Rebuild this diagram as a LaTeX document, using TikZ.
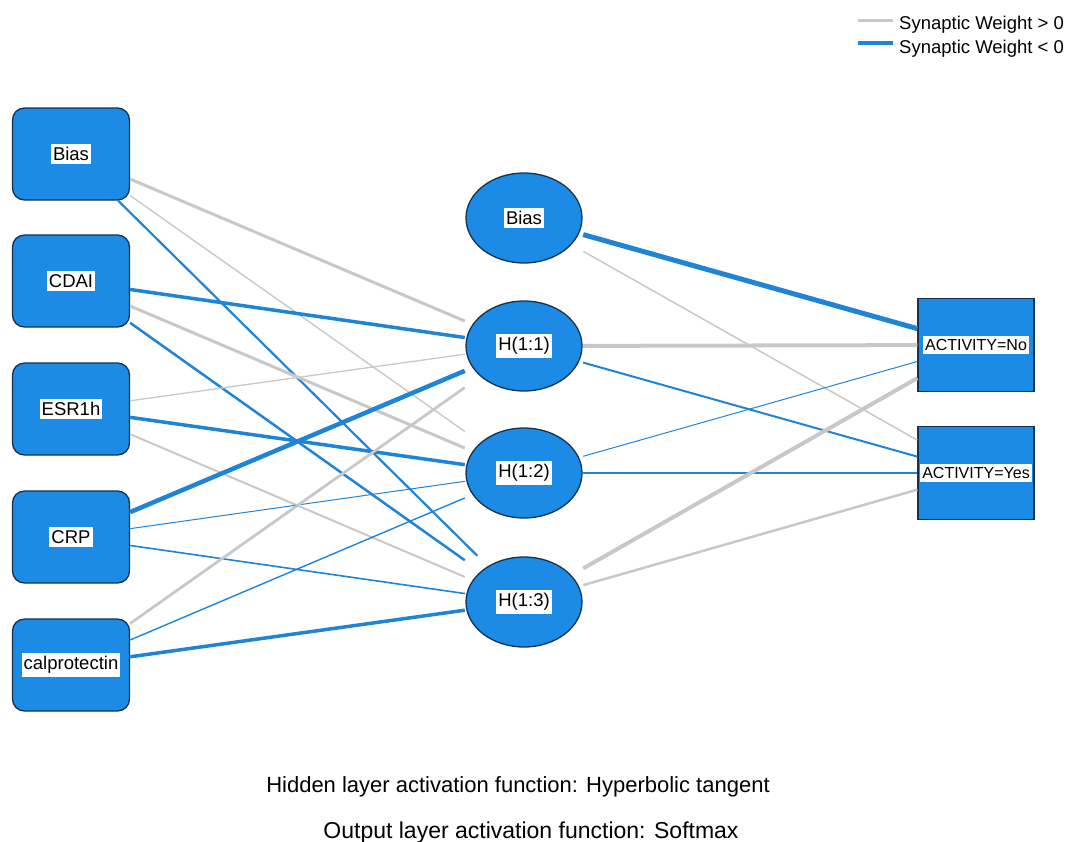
\documentclass[tikz,border=0pt]{standalone}
\usepackage{fontspec}
\setmainfont{Liberation Sans}

\definecolor{nodeblue}{HTML}{1B8BE6}
\definecolor{nodeline}{HTML}{15324F}
\definecolor{wneg}{HTML}{1F84D6}
\definecolor{wpos}{HTML}{C8C8C8}

\tikzset{
  inbox/.style={rectangle, rounded corners=12pt, draw=nodeline, line width=1.3pt,
    fill=nodeblue, minimum width=117pt, minimum height=92pt, inner sep=0pt},
  hidbox/.style={rectangle, minimum width=118pt, minimum height=92pt, inner sep=0pt,
    path picture={\draw[nodeline, line width=1.3pt, fill=nodeblue]
      (path picture bounding box.center) ellipse [x radius=58pt, y radius=45pt];}},
  outbox/.style={rectangle, draw=nodeline, line width=1.3pt, fill=nodeblue,
    minimum width=116pt, minimum height=93pt, inner sep=0pt},
  tag/.style={fill=white, inner xsep=2pt, inner ysep=3pt, font=\fontsize{18.5}{20}\selectfont},
  tagsmall/.style={fill=white, inner xsep=2pt, inner ysep=3pt, font=\fontsize{16}{18}\selectfont},
  wgtpos/.style={draw=wpos},
  wgtneg/.style={draw=wneg},
}

\begin{document}
\begin{tikzpicture}[x=1pt, y=-1pt]
    \useasboundingbox (0,0) rectangle (1067,841);

    % Input layer
    \node[inbox, label={[tag]center:Bias}] (I0) at (71,154) {};
    \node[inbox, label={[tag]center:CDAI}] (I1) at (71,281) {};
    \node[inbox, label={[tag]center:ESR1h}] (I2) at (71,409) {};
    \node[inbox, label={[tag]center:CRP}] (I3) at (71,537) {};
    \node[inbox, label={[tag]center:calprotectin}] (I4) at (71,665) {};

    % Hidden layer
    \node[hidbox, label={[tag]center:Bias}] (H0) at (524,218) {};
    \node[hidbox, label={[tag]center:H(1:1)}] (H1) at (524,346) {};
    \node[hidbox, label={[tag]center:H(1:2)}] (H2) at (524,473) {};
    \node[hidbox, label={[tag]center:H(1:3)}] (H3) at (524,602) {};

    % Output layer
    \node[outbox, label={[tagsmall]center:ACTIVITY=No}] (O1) at (976,345) {};
    \node[outbox, label={[tagsmall]center:ACTIVITY=Yes}] (O2) at (976,473) {};

    % Input to hidden weights
    \draw[wgtpos, line width=3pt] (I0) -- (H1);
    \draw[wgtpos, line width=1.4pt] (I0) -- (H2);
    \draw[wgtneg, line width=2.2pt] (I0) -- (H3);
    \draw[wgtneg, line width=3.5pt] (I1) -- (H1);
    \draw[wgtpos, line width=3pt] (I1) -- (H2);
    \draw[wgtneg, line width=2.5pt] (I1) -- (H3);
    \draw[wgtpos, line width=1.3pt] (I2) -- (H1);
    \draw[wgtneg, line width=3.5pt] (I2) -- (H2);
    \draw[wgtpos, line width=2pt] (I2) -- (H3);
    \draw[wgtneg, line width=4.5pt] (I3) -- (H1);
    \draw[wgtneg, line width=1pt] (I3) -- (H2);
    \draw[wgtneg, line width=1.6pt] (I3) -- (H3);
    \draw[wgtpos, line width=2.8pt] (I4) -- (H1);
    \draw[wgtneg, line width=1.4pt] (I4) -- (H2);
    \draw[wgtneg, line width=3.5pt] (I4) -- (H3);

    % Hidden to output weights
    \draw[wgtneg, line width=5pt] (H0) -- (O1);
    \draw[wgtpos, line width=1.5pt] (H0) -- (O2);
    \draw[wgtpos, line width=4pt] (H1) -- (O1);
    \draw[wgtneg, line width=2pt] (H1) -- (O2);
    \draw[wgtneg, line width=1pt] (H2) -- (O1);
    \draw[wgtneg, line width=2pt] (H2) -- (O2);
    \draw[wgtpos, line width=4pt] (H3) -- (O1);
    \draw[wgtpos, line width=2.5pt] (H3) -- (O2);

    % Legend
    \node[anchor=base west, inner sep=0pt, font=\fontsize{18.5}{20}\selectfont] (Lpos) at (899,29) {Synaptic Weight > 0};
    \node[anchor=base west, inner sep=0pt, font=\fontsize{18.5}{20}\selectfont] (Lneg) at (899,53) {Synaptic Weight < 0};
    \coordinate (Apos) at (858,20);
    \coordinate (Bpos) at (893,20);
    \coordinate (Aneg) at (858,43);
    \coordinate (Bneg) at (893,43);
    \draw[wgtpos, line width=3pt] (Apos) -- (Bpos);
    \draw[wgtneg, line width=4pt] (Aneg) -- (Bneg);

    % Activation functions
    \node[anchor=base, font=\fontsize{22}{24}\selectfont] (F1) at (518,792) {Hidden layer activation function: Hyperbolic tangent};
    \node[anchor=base, font=\fontsize{23}{25}\selectfont] (F2) at (531,838) {Output layer activation function: Softmax};
\end{tikzpicture}
\end{document}
